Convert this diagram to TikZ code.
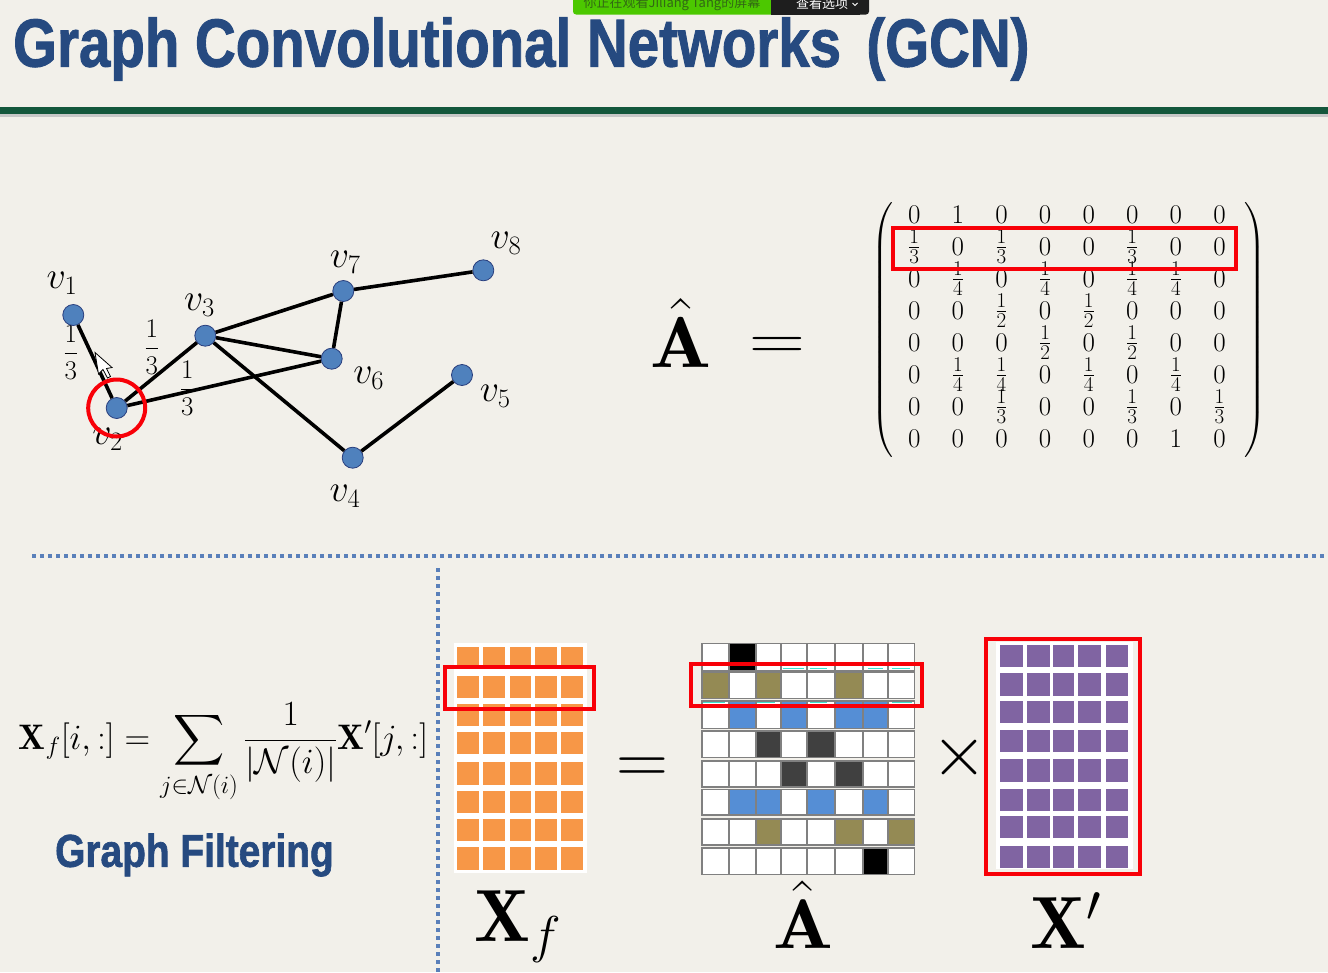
\documentclass[tikz,border=0pt]{standalone}
\usepackage{fix-cm}
\usepackage{amsmath}
\usepackage{fontspec}
\usetikzlibrary{positioning}
\DeclareFontShape{OMX}{cmex}{m}{n}{<-> cmex10}{}
\DeclareMathSizes{27}{27}{21}{15}
\newfontfamily\headfont{Liberation Sans}[BoldFeatures={FakeBold=1.5}]
\newfontfamily\cjkfont{Noto Sans CJK SC}
\newcommand{\fsz}[1]{\fontsize{#1}{#1}\selectfont}
\newcommand{\tw}{\frac{1}{2}}
\newcommand{\tr}{\frac{1}{3}}
\newcommand{\fr}{\frac{1}{4}}
\newcommand{\gridxs}{701.7,729,756,781,807,835,862.7,887.7,914.3}
\newcommand{\gridtops}{643.3,671.7,701,730.7,760.7,789.3,819,847.7}
\newcommand{\gridbots}{670.7,698.3,728.3,757.3,786.7,815,845,874.3}
\definecolor{pagebg}{HTML}{F2F0EA}
\definecolor{headblue}{HTML}{264A80}
\definecolor{barsgreen}{HTML}{14573C}
\definecolor{nodeblue}{HTML}{4F81BD}
\definecolor{nodeedge}{HTML}{2A3F7E}
\definecolor{dotblue}{HTML}{5A80BA}
\definecolor{orangefill}{HTML}{F79747}
\definecolor{purplefill}{HTML}{8064A2}
\definecolor{olivefill}{HTML}{948A54}
\definecolor{cellblue}{HTML}{558ED5}
\definecolor{celldark}{HTML}{404040}
\definecolor{redbox}{HTML}{F80008}
\definecolor{bannergreen}{HTML}{4CC800}
\definecolor{bannerdark}{HTML}{1E1E1E}
\definecolor{bannertext}{HTML}{326914}
\definecolor{tracecyan}{HTML}{40E0D0}
\tikzset{
  vertex/.style={circle,draw=nodeedge,fill=nodeblue,line width=0.8pt,minimum size=21pt,inner sep=0pt},
  edge/.style={black,line width=3.6pt},
  vlabel/.style={inner sep=0pt,font=\fsz{38}},
  weight/.style={inner sep=0pt,font=\fsz{27}},
  entry/.style={inner sep=0pt,font=\fsz{27}},
  redrect/.style={draw=redbox,line width=4pt},
  divider/.style={dotblue,line width=4pt,dash pattern=on 4pt off 4pt},
  big/.style={inner sep=0pt,font=\fsz{74}},
  cellw/.style={fill=white},
  cellk/.style={fill=black},
  cello/.style={fill=olivefill},
  cellb/.style={fill=cellblue},
  celld/.style={fill=celldark},
}
\begin{document}
\begin{tikzpicture}[x=1pt,y=-1pt]
\useasboundingbox (0,0) rectangle (1328,972);
\fill[pagebg] (0,0) rectangle (1328,972);
% header
\node[anchor=west,inner sep=0pt,xscale=0.83,text=headblue,font=\headfont\bfseries\fsz{68}] (title) at (13,49) {Graph Convolutional Networks\hspace{0.45em}(GCN)};
\fill[black!22] (0,114) rectangle (1328,117);
\fill[barsgreen] (0,107) rectangle (1328,114);
\begin{scope}
\clip (0,0) rectangle (1328,972);
\fill[rounded corners=3pt,bannergreen] (573,-8) rectangle (790,14.5);
\fill[bannerdark] (771,-8) rectangle (860,14.5);
\fill[rounded corners=3pt,bannerdark] (850,-8) rectangle (869,14.5);
\node[inner sep=0pt,text=bannertext,font=\cjkfont\fsz{13}] (viewing) at (672,4) {你正在观看Jiliang Tang的屏幕};
\node[inner sep=0pt,text=white,font=\cjkfont\fsz{13}] (options) at (822,4) {查看选项};
\draw[white,line width=1pt] (852.5,3) -- (855,5.5) -- (857.5,3);
\end{scope}
% graph
\node[weight] (w1) at (70.7,352) {$\displaystyle\tr$};
\node[weight] (w2) at (151.7,347) {$\displaystyle\tr$};
\node[weight] (w3) at (187.3,388) {$\displaystyle\tr$};
\node[vlabel] (l1) at (62,283) {$v_1$};
\node[vlabel] (l2) at (107.6,439) {$v_2$};
\node[vlabel] (l3) at (199.5,305) {$v_3$};
\node[vlabel] (l4) at (345,496) {$v_4$};
\node[vlabel] (l5) at (495.3,396) {$v_5$};
\node[vlabel] (l6) at (368.7,378) {$v_6$};
\node[vlabel] (l7) at (345.3,262) {$v_7$};
\node[vlabel] (l8) at (506,243) {$v_8$};
\node[vertex] (v1) at (73.3,315) {};
\node[vertex] (v2) at (116.7,408) {};
\node[vertex] (v3) at (205.3,335.7) {};
\node[vertex] (v4) at (352.7,457.7) {};
\node[vertex] (v5) at (462,375) {};
\node[vertex] (v6) at (331.7,358.7) {};
\node[vertex] (v7) at (343.3,291) {};
\node[vertex] (v8) at (483.3,270.3) {};
\draw[edge] (v1) -- (v2);
\draw[edge] (v2) -- (v3);
\draw[edge] (v2) -- (v6);
\draw[edge] (v3) -- (v7);
\draw[edge] (v3) -- (v6);
\draw[edge] (v3) -- (v4);
\draw[edge] (v6) -- (v7);
\draw[edge] (v7) -- (v8);
\draw[edge] (v4) -- (v5);
\draw[redbox,line width=4pt] (v2) circle (28.5);
\filldraw[fill=white,draw=black,line width=0.8pt] (95,352.5) -- (98.5,374) -- (103,369.5) -- (107.5,378) -- (110.5,376.5) -- (106.5,368.5) -- (112,367.5) -- cycle;
% matrix
\node[big,font=\fsz{72},xscale=1.12] (ahat) at (681,333) {$\hat{\mathbf{A}}$};
\node[big,font=\fsz{62},xscale=1.25] (eqtop) at (777.5,348) {$\mathbf{=}$};
\foreach \row [count=\r] in {
  {0,1,0,0,0,0,0,0},
  {\tr,0,\tr,0,0,\tr,0,0},
  {0,\fr,0,\fr,0,\fr,\fr,0},
  {0,0,\tw,0,\tw,0,0,0},
  {0,0,0,\tw,0,\tw,0,0},
  {0,\fr,\fr,0,\fr,0,\fr,0},
  {0,0,\tr,0,0,\tr,0,\tr},
  {0,0,0,0,0,0,1,0}}
  \foreach \e [count=\c] in \row
    \node[entry] (m\r-\c) at ({914.3+43.6*(\c-1)},{215+32*(\r-1)}) {$\e$};
\node[inner sep=0pt,font=\fsz{25}] (lpar) at (883,330) {$\left(\rule{0pt}{133pt}\right.$};
\node[inner sep=0pt,font=\fsz{25}] (rpar) at (1255,330) {$\left.\rule{0pt}{133pt}\right)$};
\draw[redrect] (892.7,228) rectangle (1235.7,269);
% dividers
\draw[divider] (32,556) -- (1328,556);
\draw[divider] (438,568) -- (438,972);
% formula
\node[inner sep=0pt,font=\fsz{35.5}] (formula) at (223.5,753) {$\displaystyle\mathbf{X}_f[i,:]=\sum_{j\in\mathcal{N}(i)}\frac{1}{|\mathcal{N}(i)|}\mathbf{X}'[j,:]$};
\node[anchor=west,inner sep=0pt,xscale=0.845,text=headblue,font=\headfont\bfseries\fsz{46}] (filtering) at (55,855) {Graph Filtering};
% orange grid
\fill[white] (454,643) rectangle (586.7,873);
\foreach \ya/\yb in {646.7/669.3,676/698.3,704/725.7,732.3/754.3,762.3/785,791/813.3,818.7/840.7,847.3/870}
  \foreach \xa/\xb in {457.3/479.3,483.3/505.3,509.7/530.7,535/557,561/583.3}
    \fill[orangefill] (\xa,\ya) rectangle (\xb,\yb);
\draw[redrect] (445,667.3) rectangle (594,709.3);
\node[big] (xf) at (518,927) {$\mathbf{X}_f$};
\node[big,font=\fsz{72}] (eqlow) at (642,771) {$\mathbf{=}$};
% adjacency grid
\foreach \row [count=\r from 0] in {
  {w,k,w,w,w,w,w,w},
  {o,w,o,w,w,o,w,w},
  {w,b,w,b,w,b,b,w},
  {w,w,d,w,d,w,w,w},
  {w,w,w,d,w,d,w,w},
  {w,b,b,w,b,w,b,w},
  {w,w,o,w,w,o,w,o},
  {w,w,w,w,w,w,k,w}}
  \foreach \e [count=\c from 0] in \row {
    \pgfmathsetmacro\xa{{\gridxs}[\c]}
    \pgfmathsetmacro\xb{{\gridxs}[\c+1]}
    \pgfmathsetmacro\ya{{\gridtops}[\r]}
    \pgfmathsetmacro\yb{{\gridbots}[\r]}
    \filldraw[cell\e,draw=black!50,line width=1.6pt] (\xa,\ya) rectangle (\xb,\yb);
  }
\foreach \xa/\xb in {783/804,810/827,868/883,892/910}
  \draw[tracecyan,line width=1pt] (\xa,668) -- (\xb,668);
\foreach \xa/\xb in {703/725,757/775,810/827,892/912}
  \draw[tracecyan,line width=1pt] (\xa,702) -- (\xb,702);
\draw[redrect] (691,664) rectangle (922.3,706);
\node[big,font=\fsz{70},xscale=1.13] (amat) at (803,915) {$\hat{\mathbf{A}}$};
\node[inner sep=0pt,font=\fsz{72}] (times) at (959,757) {$\times$};
% purple grid
\fill[white] (996,641.7) rectangle (1132.7,869);
\foreach \ya/\yb in {645/667.3,673.3/695.7,701/723.3,730/752.3,759.3/782,789/811,816/838.3,845.7/867.7}
  \foreach \xa/\xb in {1000/1022.7,1026.7/1050,1053.3/1074,1078.3/1100.7,1105.7/1128.3}
    \fill[purplefill] (\xa,\ya) rectangle (\xb,\yb);
\draw[redrect] (986,639) rectangle (1140,874);
\node[big] (xp) at (1066,921) {$\mathbf{X}'$};
\end{tikzpicture}
\end{document}
